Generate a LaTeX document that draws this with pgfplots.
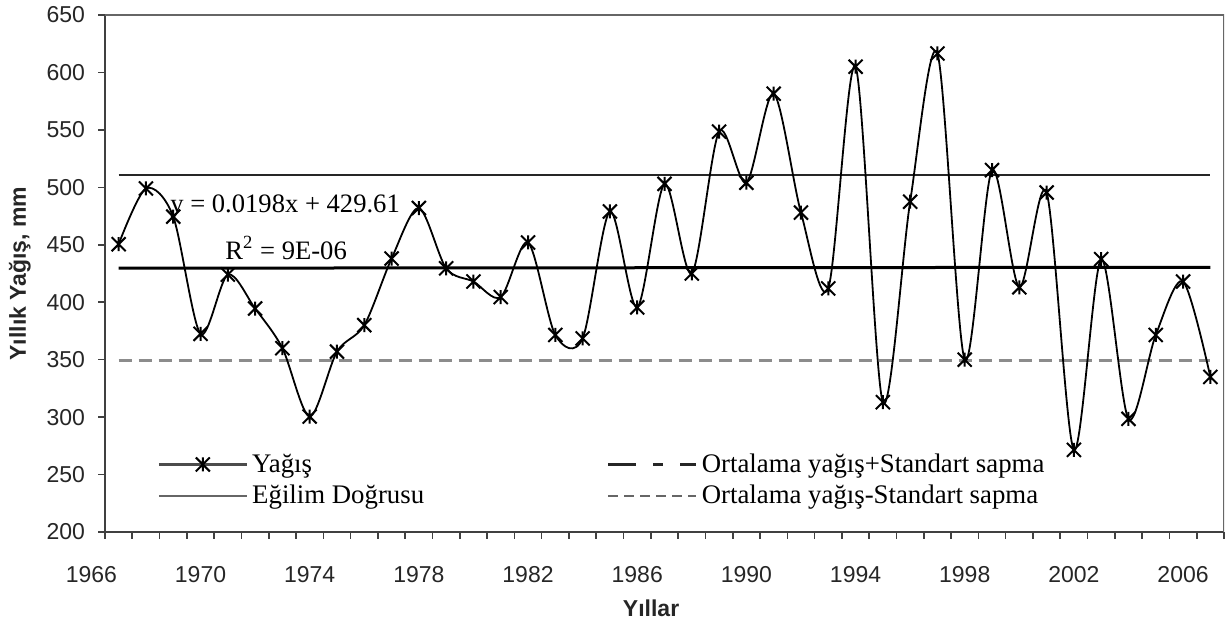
\documentclass[border=0pt]{standalone}
\usepackage{fontspec}
\setmainfont{Liberation Serif}
\newfontfamily\arial{Liberation Sans}
\usepackage{pgfplots}
\usepackage{pgfplotstable}
\pgfplotsset{compat=1.18}

% Excel style star: X with a vertical bar
\pgfdeclareplotmark{xstar}{%
  \pgfpathmoveto{\pgfqpoint{0pt}{-\pgfplotmarksize}}%
  \pgfpathlineto{\pgfqpoint{0pt}{\pgfplotmarksize}}%
  \pgfpathmoveto{\pgfqpoint{-\pgfplotmarksize}{-\pgfplotmarksize}}%
  \pgfpathlineto{\pgfqpoint{\pgfplotmarksize}{\pgfplotmarksize}}%
  \pgfpathmoveto{\pgfqpoint{-\pgfplotmarksize}{\pgfplotmarksize}}%
  \pgfpathlineto{\pgfqpoint{\pgfplotmarksize}{-\pgfplotmarksize}}%
  \pgfusepathqstroke}

\pgfplotstableread{
year rain
1967 450.5
1968 499
1969 474.5
1970 372.5
1971 424
1972 394.5
1973 360
1974 300.5
1975 357
1976 380
1977 438
1978 482
1979 429.5
1980 418
1981 404.5
1982 452
1983 371.5
1984 368.5
1985 479
1986 395.5
1987 503
1988 425
1989 548.5
1990 504
1991 581.5
1992 478
1993 412
1994 605
1995 313
1996 487.5
1997 616.5
1998 350
1999 515
2000 413
2001 495.5
2002 271.5
2003 437.5
2004 298.5
2005 371.5
2006 418
2007 335
}\rain

\begin{document}
\begin{tikzpicture}
\begin{axis}[
  name=ax,
  scale only axis,
  width=559.5pt, height=258.5pt,
  xmin=1966.5, xmax=2007.5,
  ymin=200, ymax=650,
  axis lines*=left,
  axis line style={black!75, line width=1.4pt},
  xtick={1966.5,1967.5,...,2007.5},
  xticklabels={1966,,,,1970,,,,1974,,,,1978,,,,1982,,,,1986,,,,1990,,,,1994,,,,1998,,,,2002,,,,2006},
  ytick={200,250,...,650},
  tick align=outside,
  major tick length=3.5pt,
  tick style={black!75, line width=0.8pt},
  /pgf/number format/assume math mode=true,
  ticklabel style={font=\arial\fontsize{11.5}{13}\selectfont, text=black!85},
  xticklabel style={xshift=-6.82pt, yshift=-10pt},
  yticklabel style={xshift=-3pt},
  xlabel={Yıllar},
  ylabel={Yıllık Yağış, mm},
  xlabel style={font=\arial\bfseries\fontsize{11.5}{13}\selectfont, text=black!85,
    at={(axis description cs:0.488,-0.147)}, anchor=center},
  ylabel style={font=\arial\bfseries\fontsize{11.5}{13}\selectfont, text=black!85,
    at={(axis description cs:-0.076,0.5)}, anchor=center},
  legend columns=2,
  legend cell align=left,
  legend image code/.code={\draw[mark repeat=2,mark phase=2,#1] plot coordinates {(0pt,0pt) (22pt,0pt) (44pt,0pt)};},
  legend style={draw=none, fill=none, inner sep=0pt,
    at={(axis description cs:0.0465,0.16)}, anchor=north west,
    font=\fontsize{13.4}{15}\selectfont,
    row sep=1pt,
    /tikz/every even column/.append style={column sep=89.5pt}},
]
% reference lines
\addplot[forget plot, black!85, line width=1pt] coordinates {(1967,510.5) (2007,510.5)};
\addplot[forget plot, black, line width=1.5pt] coordinates {(1967,429.63) (2007,430.42)};
\addplot[forget plot, black!45, line width=1.5pt, dash pattern=on 6.5pt off 3.5pt] coordinates {(1967,349.5) (2007,349.5)};
% annual precipitation
\addplot[forget plot, black, line width=0.9pt, smooth, mark=xstar, mark size=3.5pt,
  mark options={line width=1pt, solid}] table[x=year, y=rain] {\rain};

\node[anchor=west, inner sep=0pt, font=\fontsize{13.3}{15}\selectfont] at (axis cs:1968.88,482.9) {y = 0.0198x + 429.61};
\node[anchor=west, inner sep=0pt, font=\fontsize{13.3}{15}\selectfont] at (axis cs:1970.9,447.2) {R\textsuperscript{2} = 9E-06};

% frame of the plot area
\draw[black!60, line width=1pt] (rel axis cs:0,1) -- (rel axis cs:1,1) -- (rel axis cs:1,0);

% legend (row-wise: Yağış, Ort+Std, Eğilim, Ort-Std)
\addlegendimage{black!70, line width=1.4pt, mark=xstar, mark size=3.5pt, mark options={black, line width=1pt, solid}}
\addlegendentry{Yağış}
\addlegendimage{black!85, line width=1.3pt, dash pattern=on 14pt off 8.5pt on 5pt off 8.5pt}
\addlegendentry{Ortalama yağış+Standart sapma}
\addlegendimage{black!60, line width=1.4pt}
\addlegendentry{Eğilim Doğrusu}
\addlegendimage{black!60, line width=1pt, dash pattern=on 5pt off 3pt}
\addlegendentry{Ortalama yağış-Standart sapma}
\end{axis}
\pgfresetboundingbox
\path[use as bounding box] ([xshift=-52.5pt,yshift=-46pt]ax.south west) rectangle ([xshift=2pt,yshift=7.5pt]ax.north east);
\end{tikzpicture}
\end{document}
